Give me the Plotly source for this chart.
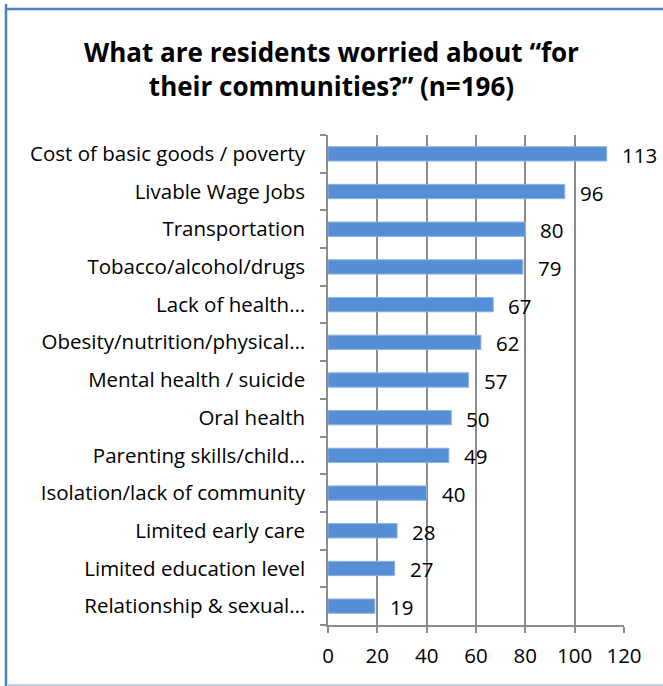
import plotly.graph_objects as go

categories = [
    "Cost of basic goods / poverty",
    "Livable Wage Jobs",
    "Transportation",
    "Tobacco/alcohol/drugs",
    "Lack of health…",
    "Obesity/nutrition/physical…",
    "Mental health / suicide",
    "Oral health",
    "Parenting skills/child…",
    "Isolation/lack of community",
    "Limited early care",
    "Limited education level",
    "Relationship & sexual…",
]
counts = [113, 96, 80, 79, 67, 62, 57, 50, 49, 40, 28, 27, 19]
x_ticks = [0, 20, 40, 60, 80, 100, 120]

FONT = "Open Sans"
BAR_COLOR = "#558ED5"
GRID = "#8C8C8C"

fig = go.Figure()
fig.add_trace(
    go.Bar(
        x=counts,
        y=categories,
        orientation="h",
        marker=dict(color=BAR_COLOR, line=dict(color="#8DB3E2", width=1)),
        width=0.38,
        showlegend=False,
        hoverinfo="x+y",
    )
)

# value labels sit a little past the bar end
for cat, val in zip(categories, counts):
    fig.add_annotation(
        x=val, y=cat, text=str(val), showarrow=False,
        xanchor="left", yanchor="middle", xshift=13, yshift=-1,
        font=dict(family=FONT, size=20.5, color="black"),
    )

fig.update_yaxes(
    categoryorder="array",
    categoryarray=categories[::-1],
    showline=True, linecolor=GRID, linewidth=1.5,
    ticks="outside", ticklen=6, tickcolor=GRID, tickwidth=1.5,
    tickson="boundaries",
    showgrid=False,
    tickfont=dict(family=FONT, size=20.5, color="black"),
    ticklabelstandoff=17,
)
fig.update_xaxes(
    range=[0, 120],
    tickvals=x_ticks,
    showline=True, linecolor=GRID, linewidth=1.5,
    ticks="outside", ticklen=6, tickcolor=GRID, tickwidth=1.5,
    showgrid=True, gridcolor=GRID, gridwidth=1.5,
    zeroline=False,
    tickfont=dict(family=FONT, size=20.5, color="black"),
    ticklabelstandoff=6,
)

L, R, T, B = 328, 39, 135, 61
pw, ph = 663 - L - R, 686 - T - B


def px(v):
    return (v - L) / pw


def py(v):
    return (686 - B - v) / ph


# chart frame: blue left and top edge, pale bottom edge
fig.add_shape(type="line", xref="paper", yref="paper",
              x0=px(6), x1=px(6), y0=py(4), y1=py(686),
              line=dict(color="#4F81BD", width=2.5))
fig.add_shape(type="line", xref="paper", yref="paper",
              x0=px(5), x1=px(663), y0=py(9), y1=py(9),
              line=dict(color="#4F81BD", width=2.5))
fig.add_shape(type="line", xref="paper", yref="paper",
              x0=px(7.5), x1=px(663), y0=py(685), y1=py(685),
              line=dict(color="#C3CFE2", width=2))

fig.update_layout(
    width=663,
    height=686,
    margin=dict(l=L, r=R, t=T, b=B),
    paper_bgcolor="white",
    plot_bgcolor="white",
    title=dict(
        text="What are residents worried about “for<br>their communities?” (n=196)",
        x=0.5, xref="container", xanchor="center",
        y=1 - 62 / 686, yref="container", yanchor="middle",
        font=dict(family=FONT, size=26, color="black", weight="bold"),
    ),
)

fig.write_html("out.html", config={"displayModeBar": False},
               post_script="document.body.style.margin='0';")
